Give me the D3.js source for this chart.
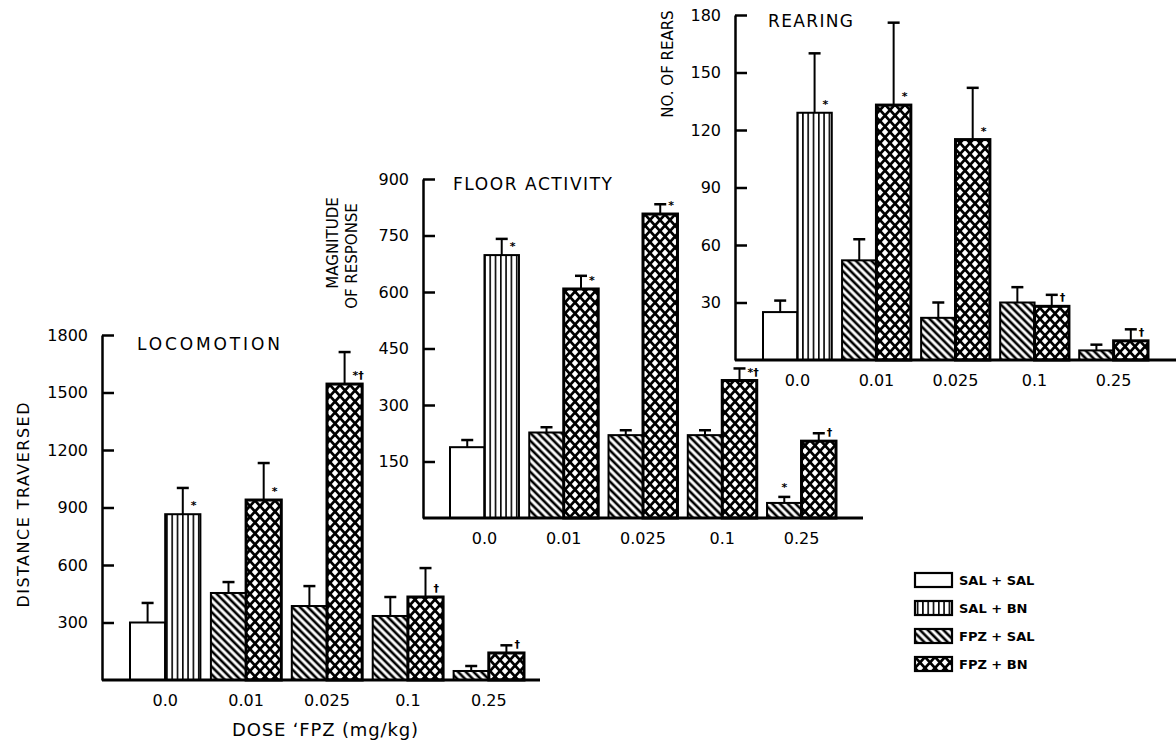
<!DOCTYPE html>
<html>
<head>
<meta charset="utf-8">
<script src="https://cdn.jsdelivr.net/npm/d3@7"></script>
<style>
  body { margin: 0; background: #fff; }
  svg { display: block; font-family: "DejaVu Sans", sans-serif; }
  .axis text { font-size: 16px; font-family: "DejaVu Sans", sans-serif; fill: #000; }
  .axis path, .axis line { stroke: #000; stroke-width: 2.5; }
</style>
</head>
<body>
<div id="chart"></div>
<script>
// doses and groups
var doses = ["0.0", "0.01", "0.025", "0.1", "0.25"];
var conditions = ["SAL + SAL", "SAL + BN", "FPZ + SAL", "FPZ + BN"];
var barDose = ["0.0", "0.0", "0.01", "0.01", "0.025", "0.025", "0.1", "0.1", "0.25", "0.25"];
var barCond = ["SAL + SAL", "SAL + BN", "FPZ + SAL", "FPZ + BN", "FPZ + SAL", "FPZ + BN", "FPZ + SAL", "FPZ + BN", "FPZ + SAL", "FPZ + BN"];

// locomotion
var locoMean = [300, 865, 454, 939, 386, 1544, 334, 433, 47, 141];
var locoErr = [102, 137, 57, 193, 104, 167, 99, 151, 26, 40];
var locoSig = ["", "*", "", "*", "", "*\u2020", "", "\u2020", "", "\u2020"];
var locoTicks = [300, 600, 900, 1200, 1500, 1800];

// floor activity
var floorMean = [188, 698, 227, 608, 220, 807, 220, 365, 40, 204];
var floorErr = [19, 43, 14, 35, 13, 26, 13, 32, 16, 21];
var floorSig = ["", "*", "", "*", "", "*", "", "*\u2020", "*", "\u2020"];
var floorTicks = [150, 300, 450, 600, 750, 900];

// rearing
var rearMean = [25, 129, 52, 133, 22, 115, 30, 28, 5, 10];
var rearErr = [6, 31, 11, 43, 8, 27, 8, 6, 3, 6];
var rearSig = ["", "*", "", "*", "", "*", "", "\u2020", "", "\u2020"];
var rearTicks = [30, 60, 90, 120, 150, 180];

var width = 1176, height = 744;

var svg = d3.select("#chart").append("svg")
    .attr("width", width)
    .attr("height", height);

svg.append("rect").attr("width", width).attr("height", height).attr("fill", "#fff");

//patterns
var defs = svg.append("defs");

var pv = defs.append("pattern").attr("id", "pat-vert")
    .attr("patternUnits", "userSpaceOnUse").attr("width", 5.3).attr("height", 10);
pv.append("rect").attr("width", 5.3).attr("height", 10).attr("fill", "#fff");
pv.append("line").attr("x1", 2.6).attr("x2", 2.6).attr("y1", 0).attr("y2", 10)
    .attr("stroke", "#000").attr("stroke-width", 1.6);

var pd = defs.append("pattern").attr("id", "pat-diag")
    .attr("patternUnits", "userSpaceOnUse").attr("width", 5.5).attr("height", 10)
    .attr("patternTransform", "rotate(-45)");
pd.append("rect").attr("width", 5.5).attr("height", 10).attr("fill", "#fff");
pd.append("rect").attr("x", 1.5).attr("width", 2.6).attr("height", 10).attr("fill", "#000");

// diagonal crosshatch: black lattice, white diamonds
var pc = defs.append("pattern").attr("id", "pat-cross")
    .attr("patternUnits", "userSpaceOnUse").attr("width", 10).attr("height", 11);
pc.append("rect").attr("width", 10).attr("height", 11).attr("fill", "#fff");
pc.append("path")
    .attr("d", "M-1,-1.1 L11,12.1 M11,-1.1 L-1,12.1")
    .attr("stroke", "#000").attr("stroke-width", 2.7).attr("fill", "none");

var fillOf = {
    "SAL + SAL": "#fff",
    "SAL + BN": "url(#pat-vert)",
    "FPZ + SAL": "url(#pat-diag)",
    "FPZ + BN": "url(#pat-cross)"
};

function drawPanel(cfg) {
    var g = svg.append("g");

    var y = d3.scaleLinear().domain([0, cfg.yMax]).range([cfg.baseY, cfg.topY]);
    var x = d3.scaleBand().domain(doses).range([cfg.x0, cfg.x1]).paddingInner(0.13).paddingOuter(0);
    var sub = d3.scaleBand().domain([0, 1]).range([0, x.bandwidth()]);

    var bars = cfg.mean.map(function (m, i) {
        return { dose: barDose[i], cond: barCond[i], mean: m, err: cfg.err[i], sig: cfg.sig[i], slot: i % 2 };
    });

    // y axis, ticks pointing inward
    g.append("g")
        .attr("class", "axis")
        .attr("transform", "translate(" + cfg.axisX + ",0)")
        .call(d3.axisLeft(y).tickValues(cfg.ticks).tickFormat(d3.format("d"))
            .tickSizeInner(-12).tickSizeOuter(0).tickPadding(14));

    // x labels
    var xa = g.append("g")
        .attr("class", "axis")
        .attr("transform", "translate(0," + cfg.baseY + ")")
        .call(d3.axisBottom(x).tickSize(0).tickPadding(15));
    xa.select(".domain").remove();

    g.selectAll(".bar")
        .data(bars)
        .enter().append("rect")
        .attr("class", "bar")
        .attr("x", function (d) { return x(d.dose) + sub(d.slot); })
        .attr("y", function (d) { return y(d.mean); })
        .attr("width", sub.bandwidth())
        .attr("height", function (d) { return cfg.baseY - y(d.mean); })
        .attr("fill", function (d) { return fillOf[d.cond]; })
        .attr("stroke", "#000")
        .attr("stroke-width", function (d) { return d.cond == "FPZ + BN" ? 3 : 2; });

    function cx(d) { return x(d.dose) + sub(d.slot) + sub.bandwidth() / 2; }

    g.selectAll(".err")
        .data(bars)
        .enter().append("line")
        .attr("class", "err")
        .attr("x1", cx).attr("x2", cx)
        .attr("y1", function (d) { return y(d.mean); })
        .attr("y2", function (d) { return y(d.mean + d.err); })
        .attr("stroke", "#000").attr("stroke-width", 2);

    g.selectAll(".cap")
        .data(bars)
        .enter().append("line")
        .attr("class", "cap")
        .attr("x1", function (d) { return cx(d) - 6; })
        .attr("x2", function (d) { return cx(d) + 6; })
        .attr("y1", function (d) { return y(d.mean + d.err); })
        .attr("y2", function (d) { return y(d.mean + d.err); })
        .attr("stroke", "#000").attr("stroke-width", 2.5);

    g.selectAll(".sig")
        .data(bars.filter(function (d) { return d.sig != ""; }))
        .enter().append("text")
        .attr("class", "sig")
        .attr("x", function (d) { return d.slot == 0 ? cx(d) : cx(d) + 8; })
        .attr("y", function (d) { return d.slot == 0 ? y(d.mean + d.err) - 6 : y(d.mean) - 5; })
        .attr("text-anchor", function (d) { return d.slot == 0 ? "middle" : "start"; })
        .attr("font-size", 11)
        .attr("font-weight", "bold")
        .text(function (d) { return d.sig; });

    // baseline
    g.append("line")
        .attr("x1", cfg.axisX).attr("x2", cfg.axisEnd)
        .attr("y1", cfg.baseY).attr("y2", cfg.baseY)
        .attr("stroke", "#000").attr("stroke-width", 3.2);

    g.append("text")
        .attr("x", cfg.titleX).attr("y", cfg.titleY)
        .attr("font-size", 17)
        .attr("textLength", cfg.titleLen).attr("lengthAdjust", "spacing")
        .text(cfg.title);

    cfg.yTitle.forEach(function (t, i) {
        var yt = g.append("text")
            .attr("transform", "translate(" + cfg.yTitleX[i] + "," + cfg.yTitleY[i] + ") rotate(-90)")
            .attr("text-anchor", "middle")
            .attr("dominant-baseline", "central")
            .attr("font-size", cfg.yTitleSize[i])
            .text(t);
        if (cfg.yTitleLen[i]) yt.attr("textLength", cfg.yTitleLen[i]).attr("lengthAdjust", "spacing");
    });

    if (cfg.xTitle) {
        g.append("text")
            .attr("x", cfg.xTitleX).attr("y", cfg.baseY + 56)
            .attr("text-anchor", "middle")
            .attr("font-size", 18)
            .attr("textLength", 186).attr("lengthAdjust", "spacing")
            .text(cfg.xTitle);
    }
}

drawPanel({
    mean: locoMean, err: locoErr, sig: locoSig, ticks: locoTicks, yMax: 1800,
    axisX: 102, axisEnd: 540, baseY: 680, topY: 335, x0: 130, x1: 524,
    title: "LOCOMOTION", titleX: 137, titleY: 350, titleLen: 143,
    yTitle: ["DISTANCE TRAVERSED"], yTitleX: [23], yTitleY: [505], yTitleLen: [205], yTitleSize: [16],
    xTitle: "DOSE \u02BBFPZ (mg/kg)", xTitleX: 325
});

drawPanel({
    mean: floorMean, err: floorErr, sig: floorSig, ticks: floorTicks, yMax: 900,
    axisX: 423, axisEnd: 863, baseY: 518, topY: 179, x0: 450, x1: 836,
    title: "FLOOR ACTIVITY", titleX: 453, titleY: 190, titleLen: 159,
    yTitle: ["MAGNITUDE", "OF RESPONSE"], yTitleX: [333, 352], yTitleY: [243, 256],
    yTitleLen: [null, null], yTitleSize: [15, 15]
});

drawPanel({
    mean: rearMean, err: rearErr, sig: rearSig, ticks: rearTicks, yMax: 180,
    axisX: 735, axisEnd: 1176, baseY: 360, topY: 15, x0: 763, x1: 1148,
    title: "REARING", titleX: 768, titleY: 27, titleLen: 85,
    yTitle: ["NO. OF REARS"], yTitleX: [668], yTitleY: [64], yTitleLen: [null], yTitleSize: [15]
});

// legend
var legend = svg.append("g").attr("transform", "translate(915,573)");
var row = legend.selectAll(".lg")
    .data(conditions)
    .enter().append("g")
    .attr("class", "lg")
    .attr("transform", function (d, i) { return "translate(0," + (i * 28) + ")"; });
row.append("rect")
    .attr("width", 37).attr("height", 14)
    .attr("fill", function (d) { return fillOf[d]; })
    .attr("stroke", "#000").attr("stroke-width", 2.2);
row.append("text")
    .attr("x", 44).attr("y", 7)
    .attr("dominant-baseline", "central")
    .attr("font-size", 13)
    .attr("font-weight", "bold")
    .text(function (d) { return d; });
</script>
</body>
</html>
